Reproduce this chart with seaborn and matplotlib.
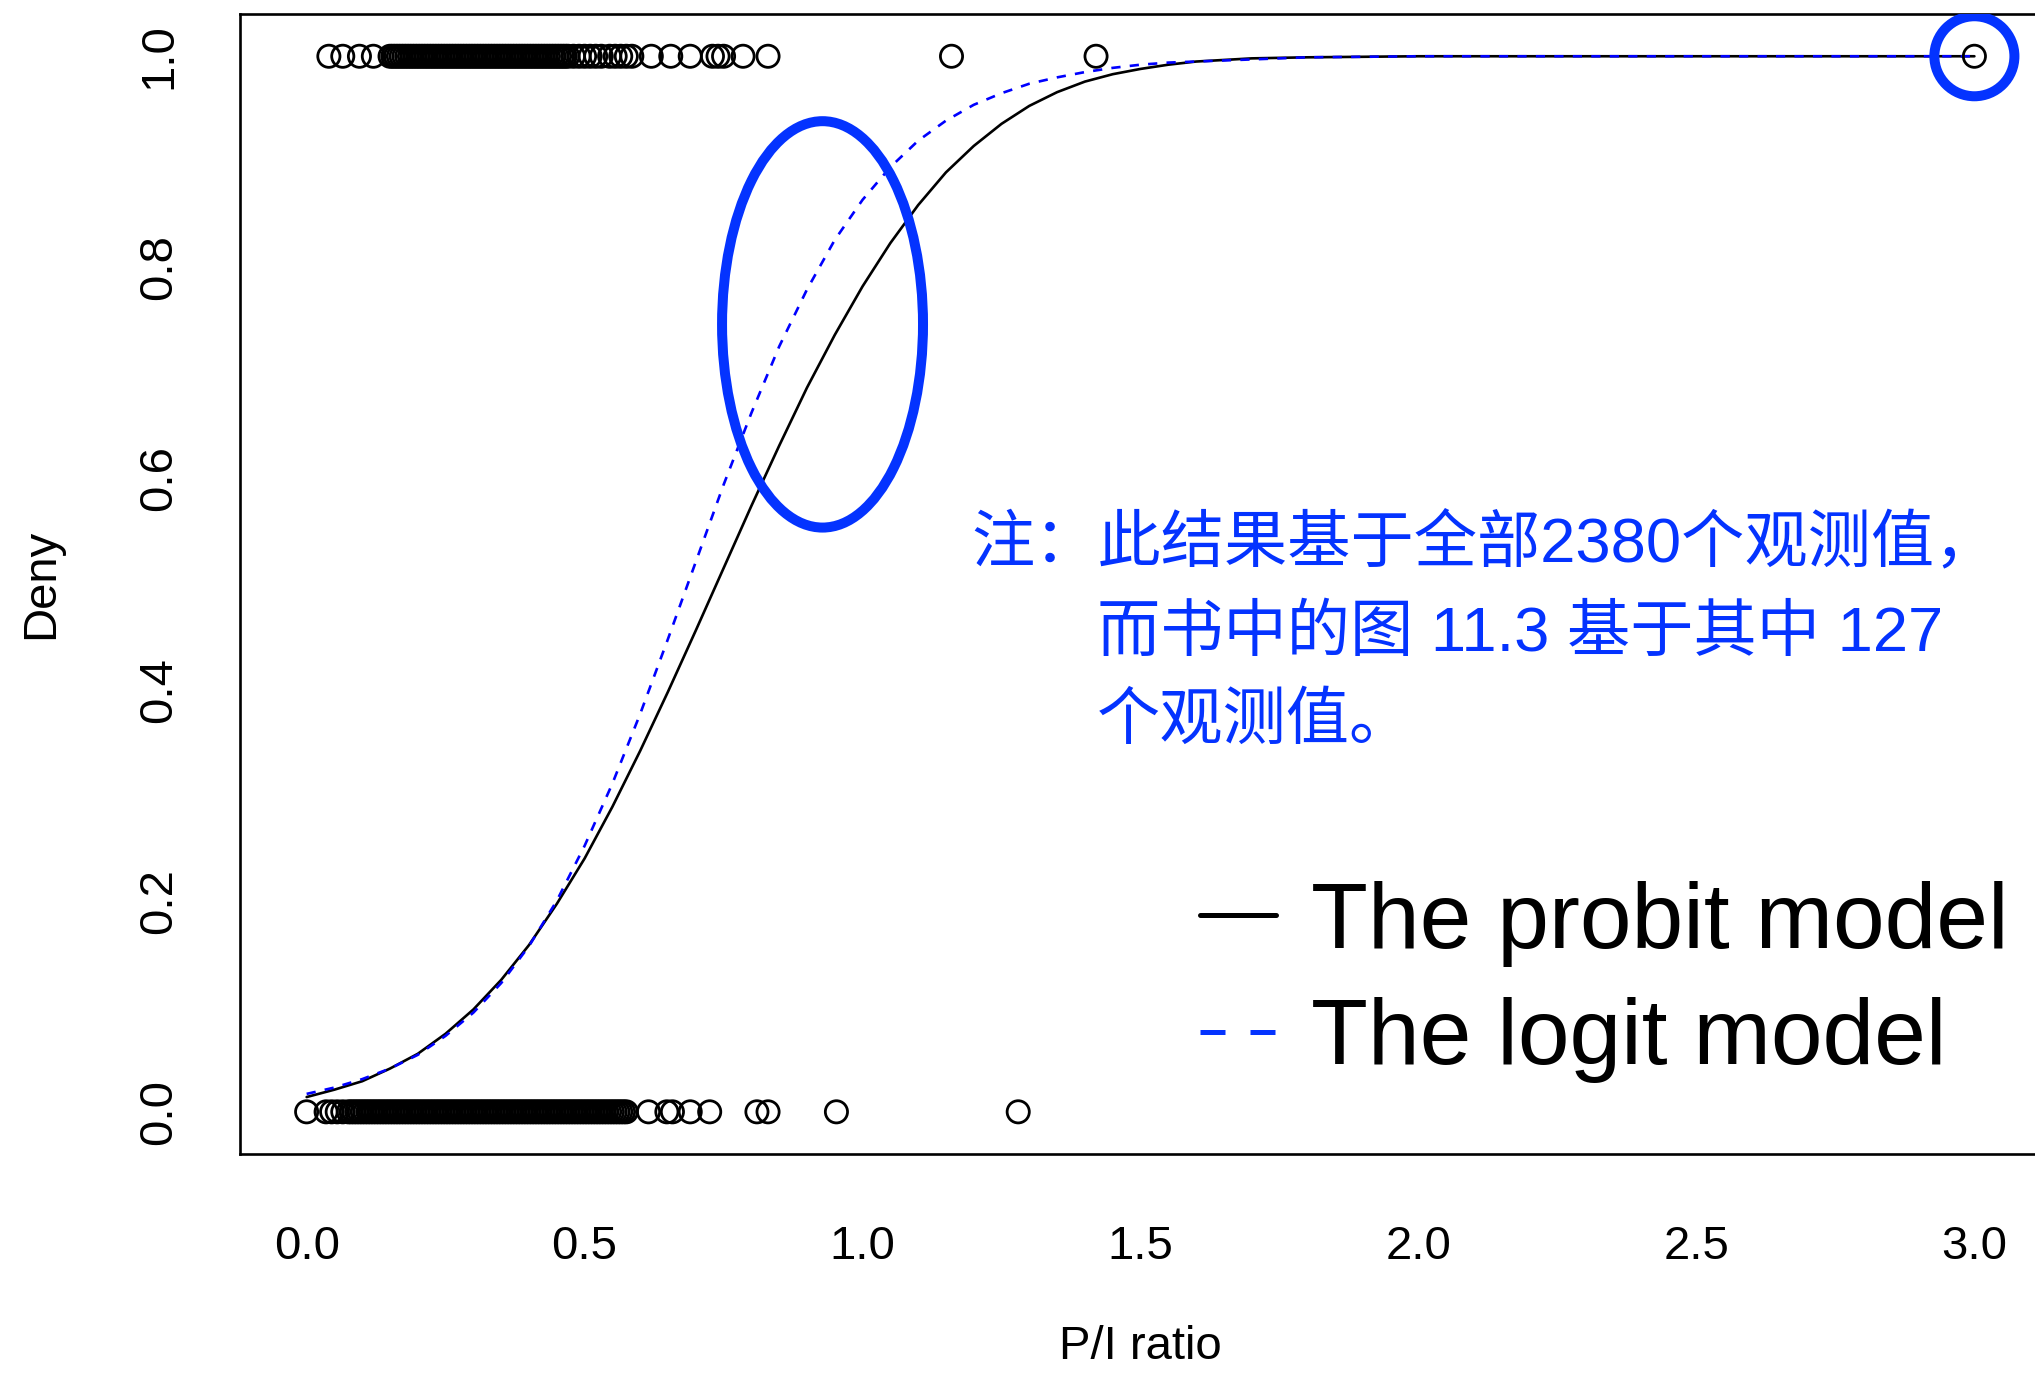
import matplotlib
matplotlib.use("Agg")
import matplotlib.pyplot as plt
import pandas as pd
import seaborn as sns
from matplotlib.patches import Ellipse
from matplotlib.lines import Line2D

# === 1. Data ===
# P/I ratio of the denied applications (deny = 1)
pi_deny1 = [
    0.040, 0.065, 0.095, 0.120,
    0.150, 0.155, 0.160, 0.165, 0.170, 0.175, 0.180, 0.185, 0.190, 0.195,
    0.200, 0.205, 0.210, 0.215, 0.220, 0.225, 0.230, 0.235, 0.240, 0.245,
    0.250, 0.255, 0.260, 0.265, 0.270, 0.275, 0.280, 0.285, 0.290, 0.295,
    0.300, 0.305, 0.310, 0.315, 0.320, 0.325, 0.330, 0.335, 0.340, 0.345,
    0.350, 0.355, 0.360, 0.365, 0.370, 0.375, 0.380, 0.385, 0.390, 0.395,
    0.400, 0.405, 0.410, 0.415, 0.420, 0.425, 0.430, 0.435, 0.440, 0.445,
    0.450, 0.455, 0.460, 0.465, 0.470,
    0.480, 0.490, 0.500, 0.510, 0.520, 0.530, 0.545, 0.555, 0.565, 0.575, 0.585,
    0.620, 0.655, 0.690, 0.730, 0.740, 0.750, 0.785, 0.830,
    1.160, 1.420, 3.000,
]
# P/I ratio of the approved applications (deny = 0)
pi_deny0 = [
    0.000, 0.035, 0.045, 0.055, 0.065, 0.075,
    0.080, 0.085, 0.090, 0.095, 0.100, 0.105, 0.110, 0.115, 0.120, 0.125,
    0.130, 0.135, 0.140, 0.145, 0.150, 0.155, 0.160, 0.165, 0.170, 0.175,
    0.180, 0.185, 0.190, 0.195, 0.200, 0.205, 0.210, 0.215, 0.220, 0.225,
    0.230, 0.235, 0.240, 0.245, 0.250, 0.255, 0.260, 0.265, 0.270, 0.275,
    0.280, 0.285, 0.290, 0.295, 0.300, 0.305, 0.310, 0.315, 0.320, 0.325,
    0.330, 0.335, 0.340, 0.345, 0.350, 0.355, 0.360, 0.365, 0.370, 0.375,
    0.380, 0.385, 0.390, 0.395, 0.400, 0.405, 0.410, 0.415, 0.420, 0.425,
    0.430, 0.435, 0.440, 0.445, 0.450, 0.455, 0.460, 0.465, 0.470, 0.475,
    0.480, 0.485, 0.490, 0.495, 0.500, 0.505, 0.510, 0.515, 0.520, 0.525,
    0.530, 0.535, 0.540, 0.545, 0.550, 0.555, 0.560, 0.565, 0.570, 0.575,
    0.615, 0.648, 0.658, 0.690, 0.725, 0.810, 0.830, 0.953, 1.280,
]

# fitted probabilities
curve_x = [
    0.00, 0.05, 0.10, 0.15, 0.20, 0.25, 0.30, 0.35, 0.40, 0.45,
    0.50, 0.55, 0.60, 0.65, 0.70, 0.75, 0.80, 0.85, 0.90, 0.95,
    1.00, 1.05, 1.10, 1.15, 1.20, 1.25, 1.30, 1.35, 1.40, 1.45,
    1.50, 1.55, 1.60, 1.70, 1.80, 2.00, 3.00,
]
probit_y = [
    0.014, 0.021, 0.029, 0.041, 0.055, 0.074, 0.097, 0.125, 0.158, 0.197,
    0.240, 0.289, 0.342, 0.398, 0.456, 0.515, 0.574, 0.631, 0.686, 0.736,
    0.782, 0.823, 0.859, 0.890, 0.915, 0.936, 0.953, 0.966, 0.976, 0.983,
    0.988, 0.992, 0.995, 0.998, 0.999, 1.000, 1.000,
]
logit_y = [
    0.017, 0.023, 0.031, 0.041, 0.054, 0.072, 0.094, 0.122, 0.157, 0.200,
    0.252, 0.311, 0.377, 0.448, 0.521, 0.594, 0.662, 0.725, 0.779, 0.826,
    0.864, 0.895, 0.920, 0.939, 0.954, 0.965, 0.974, 0.980, 0.985, 0.989,
    0.992, 0.994, 0.995, 0.997, 0.999, 1.000, 1.000,
]

legend_labels = ["The probit model", "The logit model"]
note_lines = [
    "注：此结果基于全部2380个观测值，",
    "而书中的图 11.3 基于其中 127",
    "个观测值。",
]

points = pd.DataFrame({
    "pi": pi_deny1 + pi_deny0,
    "deny": [1] * len(pi_deny1) + [0] * len(pi_deny0),
})

# === 2. Plot ===
sns.set_theme(style="white")
plt.rcParams["font.family"] = ["Liberation Sans", "DejaVu Sans"]
plt.rcParams["text.color"] = "black"
plt.rcParams["axes.labelcolor"] = "black"
note_font = ["Liberation Sans", "Noto Sans CJK SC", "DejaVu Sans"]
note_blue = "#0433FF"

fig = plt.figure(figsize=(20.35, 13.76), dpi=100)
ax = fig.add_axes([0.1179, 0.1613, 0.8851, 0.8285])

sns.scatterplot(data=points, x="pi", y="deny", ax=ax, marker="o", s=255,
                facecolor="none", edgecolor="black", linewidth=2.0, zorder=3)
sns.lineplot(x=curve_x, y=probit_y, ax=ax, color="black", linewidth=1.9,
             zorder=2)
sns.lineplot(x=curve_x, y=logit_y, ax=ax, color="blue", linewidth=1.9,
             linestyle=(0, (3.5, 3.5)), zorder=2)

ax.set_xlim(-0.12, 3.12)
ax.set_ylim(-0.04, 1.04)
xt = [0.0, 0.5, 1.0, 1.5, 2.0, 2.5, 3.0]
yt = [0.0, 0.2, 0.4, 0.6, 0.8, 1.0]
ax.set_xticks(xt, [f"{v:.1f}" for v in xt])
ax.set_yticks(yt, [f"{v:.1f}" for v in yt])
ax.tick_params(axis="both", direction="out", length=22, width=1.1,
               labelsize=34, colors="black")
ax.tick_params(axis="x", pad=29)
ax.tick_params(axis="y", pad=20, labelrotation=90)
for lab in ax.get_yticklabels():
    lab.set_va("center")
for sp in ax.spines.values():
    sp.set_linewidth(1.9)
    sp.set_color("black")

ax.set_xlabel("P/I ratio", fontsize=34)
ax.set_ylabel("Deny", fontsize=34)
ax.xaxis.label.set_va("center")
ax.xaxis.set_label_coords(0.5, -0.169)
ax.yaxis.label.set_va("center")
ax.yaxis.label.set_ha("center")
ax.yaxis.set_label_coords(-0.1105, 0.5)

# blue highlights
ax.add_patch(Ellipse((0.928, 0.746), 0.3615, 0.385, fill=False,
                     edgecolor=note_blue, linewidth=7.2, zorder=5))
ax.add_patch(Ellipse((3.0, 1.0), 0.144, 0.0758, fill=False,
                     edgecolor=note_blue, linewidth=7.2, zorder=5))

fig.text(0.4771, 0.5923, note_lines[0], fontsize=45.5, color=note_blue,
         family=note_font, va="baseline")
fig.text(0.5391, 0.5269, note_lines[1], fontsize=45.5, color=note_blue,
         family=note_font, va="baseline")
fig.text(0.5391, 0.4629, note_lines[2], fontsize=45.5, color=note_blue,
         family=note_font, va="baseline")

handles = [
    Line2D([], [], color="black", linewidth=3.6),
    Line2D([], [], color=note_blue, linewidth=3.6, linestyle=(0, (5, 5))),
]
leg = ax.legend(handles, legend_labels, loc="upper left",
                bbox_to_anchor=(0.5897, 0.3600),
                bbox_transform=fig.transFigure, frameon=False, fontsize=67,
                handlelength=0.82, handletextpad=0.37, labelspacing=0.33,
                borderpad=0, borderaxespad=0)
for t in leg.get_texts():
    t.set_color("black")

fig.savefig("out.png", dpi=100)
